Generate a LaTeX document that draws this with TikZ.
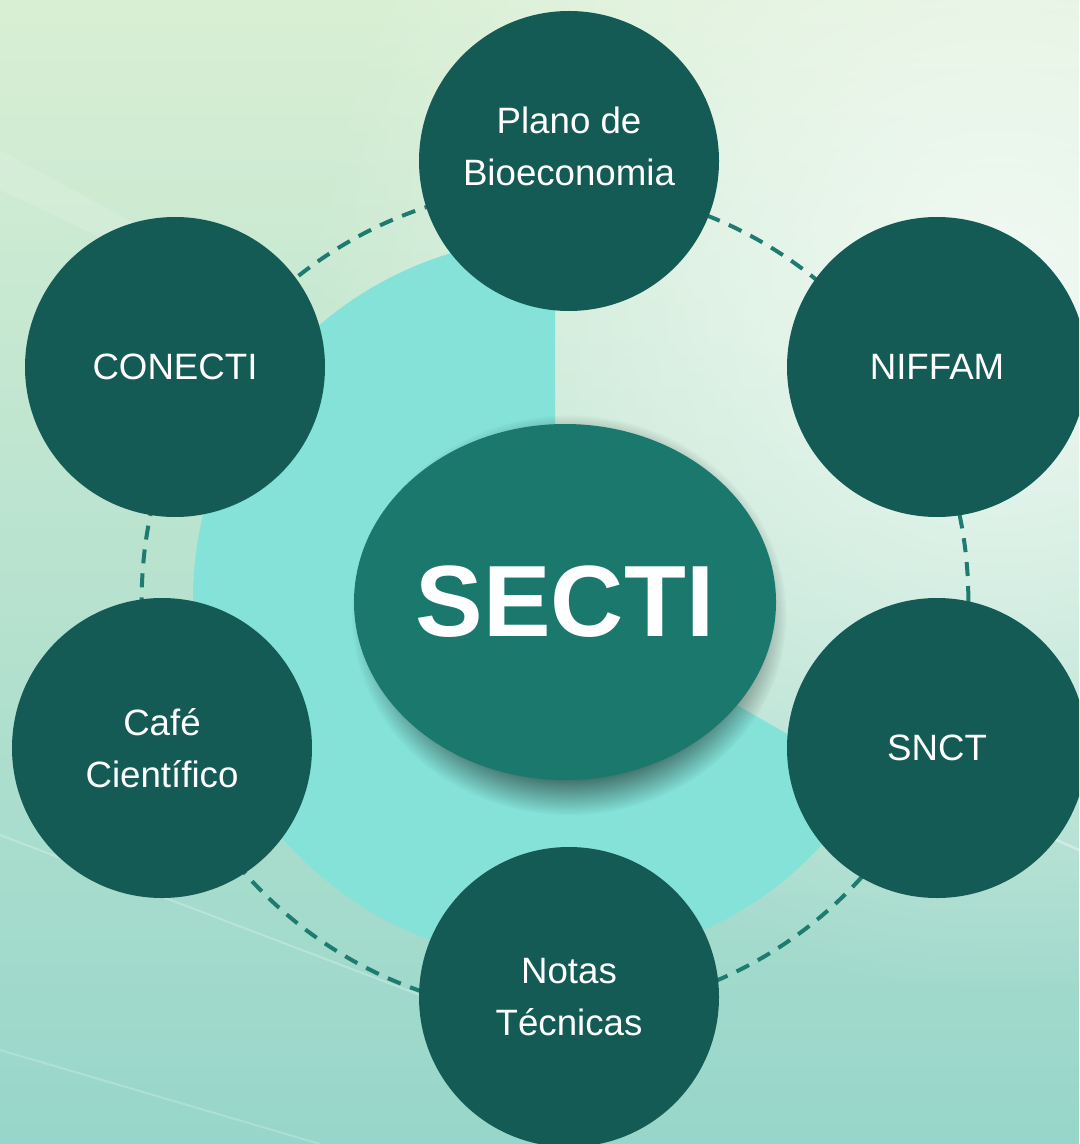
\documentclass[tikz,border=0pt]{standalone}
\usepackage{fontspec}
\setmainfont{Liberation Sans}
\usetikzlibrary{shapes.geometric,fadings}

\definecolor{deepteal}{HTML}{155B55}
\definecolor{hubteal}{HTML}{1B786D}
\definecolor{pieteal}{HTML}{84E2D8}
\definecolor{ringteal}{HTML}{1E7B70}
\definecolor{bgtop}{HTML}{D9EFD4}
\definecolor{bgmid}{HTML}{CDECDF}
\definecolor{bgbot}{HTML}{97D6CA}

\tikzfading[name=softglow,inner color=transparent!0,outer color=transparent!100]
\pgfdeclareradialshading{hubshade}{\pgfpoint{0bp}{0bp}}{color(0bp)=(pgftransparent!0);
    color(18bp)=(pgftransparent!0); color(25bp)=(pgftransparent!100); color(50bp)=(pgftransparent!100)}
\pgfdeclarefading{hubfade}{\pgfuseshading{hubshade}}

\begin{document}
\begin{tikzpicture}[x=0.75pt,y=-0.75pt,
        topic node/.style={circle,fill=deepteal,minimum size=225pt,inner sep=0pt,
            text=white,align=center,font=\fontsize{27.5}{39}\selectfont},
        hub node/.style={ellipse,fill=hubteal,minimum width=303pt,minimum height=267pt,
            inner sep=0pt,text=white,font=\fontsize{76}{80}\selectfont\bfseries},
        hub shadow/.style={black,fill opacity=.75,path fading=hubfade},
        ring/.style={ringteal,line width=3pt,dash pattern=on 10.5pt off 7.5pt}]

        \useasboundingbox (0,0) rectangle (1079,1144);
        \clip (0,0) rectangle (1079,1144);

        % background
        \shade[top color=bgtop,middle color=bgmid,bottom color=bgbot] (0,0) rectangle (1079,1144);
        \fill[white,fill opacity=.75,path fading=softglow] (1000,300) circle (520pt);
        \fill[white,fill opacity=.12] (0,150) -- (330,330) -- (330,345) -- (0,190) -- cycle;
        \draw[white,opacity=.25,line width=1.5pt] (0,835) -- (420,995);
        \draw[white,opacity=.2,line width=1.5pt] (0,1050) -- (320,1144);
        \draw[white,opacity=.35,line width=2pt] (1000,815) -- (1079,850);

        \coordinate (c) at (555,600);

        % pie and ring
        \fill[pieteal] (c) -- ++(90:271.5pt) arc[start angle=90,end angle=330,radius=271.5pt] -- cycle;
        \draw[ring] (c) circle (310pt);

        \node[topic node,text depth=22pt] (1) at (569,161) {Plano de\\Bioeconomia};
        \node[topic node] (2) at (937,367) {NIFFAM};
        \node[topic node] (3) at (937,748) {SNCT};
        \node[topic node] (4) at (569,997) {Notas\\Técnicas};
        \node[topic node] (5) at (162,748) {Café\\Científico};
        \node[topic node] (6) at (175,367) {CONECTI};

        % hub with its shadow
        \fill[hub shadow] (569,615) ellipse[x radius=163pt,y radius=150pt];
        \node[hub node] (0) at (565,602) {SECTI};
      \end{tikzpicture}
\end{document}
